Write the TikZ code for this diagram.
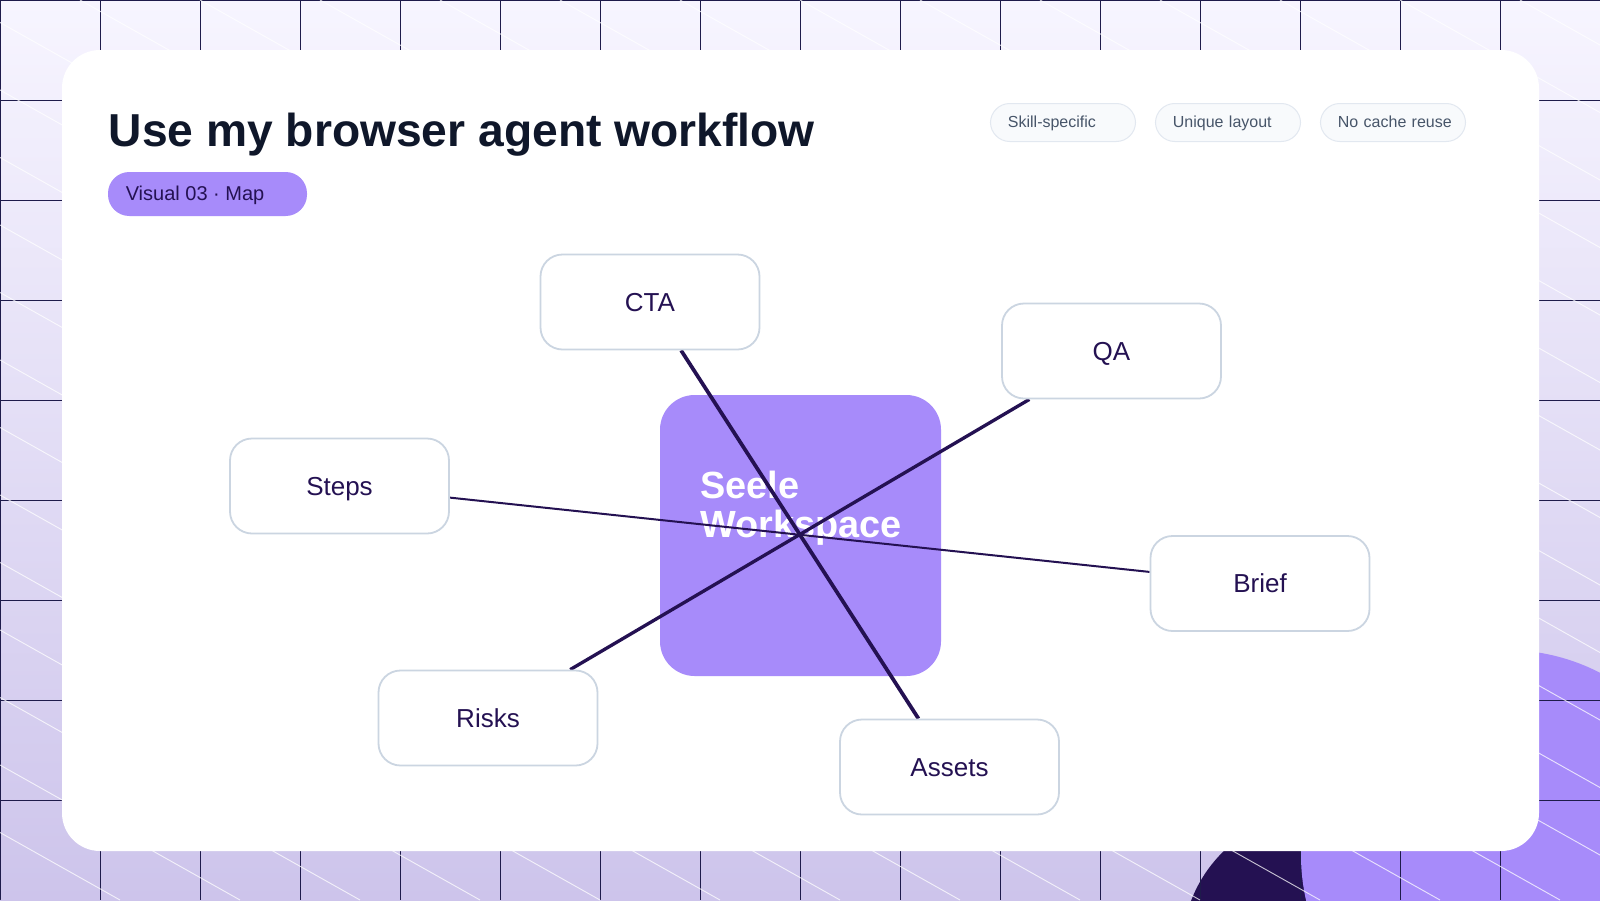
\documentclass[tikz,border=0pt]{standalone}
\usepackage{fontspec}
\setmainfont{Liberation Sans}

\definecolor{ink}{HTML}{241152}
\definecolor{gridink}{HTML}{1E1B4B}
\definecolor{violet}{HTML}{A78BFA}
\definecolor{titleink}{HTML}{0F172A}
\definecolor{chipink}{HTML}{475569}
\definecolor{chipfill}{HTML}{F8FAFC}
\definecolor{chipedge}{HTML}{E2E8F0}
\definecolor{boxedge}{HTML}{CBD5E1}
\definecolor{skytop}{HTML}{F7F5FF}
\definecolor{skybottom}{HTML}{CDC4EB}

\pgfdeclarelayer{front}
\pgfsetlayers{main,front}

\tikzset{
    gridline/.style={draw=gridink, line width=0.75pt},
    hatchline/.style={draw=white, draw opacity=0.75, line width=0.7pt},
    title/.style={anchor=base west, inner sep=0, text=titleink, font=\fontsize{34.65pt}{40pt}\selectfont\bfseries},
    tagpill/.style={fill=violet, rounded corners=16pt, minimum width=149.25pt, minimum height=33pt, inner sep=0},
    tagtext/.style={anchor=base west, inner sep=0, text=ink, font=\fontsize{15pt}{18pt}\selectfont},
    chip/.style={draw=chipedge, fill=chipfill, line width=0.75pt, rounded corners=14.5pt, text=chipink,
        text width=82.6pt, align=left, inner xsep=13.1pt, inner ysep=0, minimum height=28.5pt,
        text height=10.1pt, text depth=3.3pt, font=\fontsize{12pt}{14pt}\selectfont},
    hub/.style={fill=violet, rounded corners=26pt, minimum width=210.75pt, minimum height=210.75pt, inner sep=0},
    hubtext/.style={inner sep=0, align=left, text=white, font=\fontsize{28.4pt}{29.25pt}\selectfont\bfseries},
    topic/.style={draw=boxedge, fill=white, line width=1.35pt, rounded corners=16.5pt, text=ink,
        minimum width=164.25pt, minimum height=71.25pt, inner sep=0,
        text height=17.65pt, text depth=4.13pt, font=\fontsize{19.5pt}{23pt}\selectfont},
    spoke/.style={draw=ink}
}

\begin{document}
\begin{tikzpicture}[x=0.75pt, y=-0.75pt]
    \useasboundingbox (0, 0) rectangle (1600, 900);
    \clip (0, 0) rectangle (1600, 900);
    % backdrop
    \shade[top color=skytop, bottom color=skybottom] (0, 0) rectangle (1600, 900);
    \fill[ink] (1320, 950) circle (138);
    \fill[violet] (1506, 855) circle (205);
    \foreach \gx in {0, 100, ..., 1500}
        \draw[gridline] (\gx + 0.5, 0) -- (\gx + 0.5, 900);
    \foreach \gy in {0, 100, ..., 800}
        \draw[gridline] (0, \gy + 0.5) -- (1600, \gy + 0.5);
    \foreach \hx in {-1600, -1480, ..., 1640}
        \draw[hatchline] (\hx, 0) -- (\hx + 1600, 900);
    \fill[white] (62, 50) [rounded corners=28.5pt] rectangle (1539, 851);

    % header
    \node[title] (heading) at (108.5, 146.5) {Use my browser agent workflow};
    \node[tagpill] (tag) at (207.5, 194) {};
    \node[tagtext] (tagtitle) at (125.5, 200.5) {Visual 03 · Map};
    \node[chip] (chipa) at (1063, 122.5) {Skill-specific};
    \node[chip] (chipb) at (1228, 122.5) {Unique~layout};
    \node[chip] (chipc) at (1393, 122.5) {No~cache~reuse};

    % map
    \node[hub] (center) at (800.5, 535.5) {};
    \node[hubtext] (centertext) at (801, 508.5) {Seele\\Workspace};
    \begin{pgfonlayer}{front}
        \node[topic] (cta) at (650, 302) {CTA};
        \node[topic] (qa) at (1111.5, 351) {QA};
        \node[topic] (steps) at (339.5, 486) {Steps};
        \node[topic] (brief) at (1260, 583.5) {Brief};
        \node[topic] (risks) at (488, 718) {Risks};
        \node[topic] (assets) at (949.5, 767) {Assets};
    \end{pgfonlayer}
    \draw[spoke, line width=1.5pt] (steps) -- (brief);
    \draw[spoke, line width=2.5pt] (qa) -- (risks);
    \draw[spoke, line width=2.8pt] (cta) -- (assets);
\end{tikzpicture}
\end{document}
